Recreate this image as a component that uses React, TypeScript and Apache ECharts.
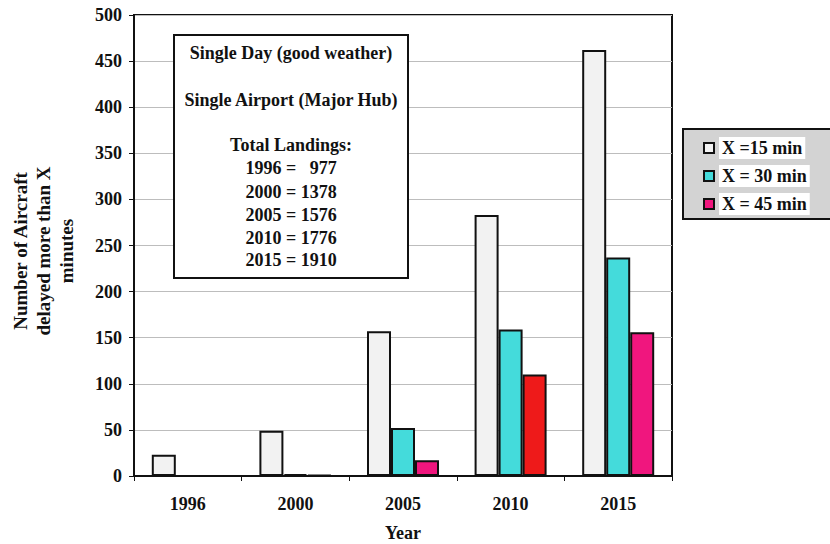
import React, { useEffect, useRef } from "react";
import * as echarts from "echarts";

const years = ["1996", "2000", "2005", "2010", "2015"];
const delayed15 = [23, 49, 157, 283, 462];
const delayed30 = [0, 2, 52, 159, 237];
const delayed45 = [0, 1, 17, 110, 156];
const seriesNames = ["X =15 min", "X = 30 min", "X = 45 min"];
const yTicks = [0, 50, 100, 150, 200, 250, 300, 350, 400, 450, 500];
const noteLines = [
  "Single Day (good weather)",
  "",
  "Single Airport (Major Hub)",
  "",
  "Total Landings:",
  "1996 =   977",
  "2000 = 1378",
  "2005 = 1576",
  "2010 = 1776",
  "2015 = 1910",
];
const yTitleLines = ["Number of Aircraft", "delayed more than X", "minutes"];

const FONT = "Liberation Serif";

export default function App() {
  const ref = useRef<HTMLDivElement>(null);
  useEffect(() => {
    if (!ref.current) return;
    const chart = echarts.init(ref.current, null, { renderer: "svg" });
    const colors = ["#f2f2f2", "#44dbdb", "#f0167e"];
    const red = "#ee1a1a";
    const mk = (name: string, data: number[], color: string, idx: number) => ({
      name,
      type: "bar",
      barWidth: 24,
      barGap: "0%",
      data: data.map((v, i) =>
        idx === 2 && i === 3 ? { value: v, itemStyle: { color: red } } : v
      ),
      itemStyle: { color, borderColor: "#111", borderWidth: 2 },
    });
    const graphic: any[] = [
      {
        type: "rect",
        shape: { x: 683, y: 129, width: 160, height: 90 },
        style: { fill: "#d3d3d3", stroke: "#111", lineWidth: 2 },
        z: 0,
      },
      {
        type: "rect",
        shape: { x: 174, y: 35, width: 234, height: 243 },
        style: { fill: "#fff", stroke: "#111", lineWidth: 2 },
        z: 10,
      },
    ];
    const noteY = [53, 76, 100, 122, 145, 168, 192, 215, 238, 260];
    noteLines.forEach((t, i) => {
      if (!t) return;
      graphic.push({
        type: "text",
        x: 291,
        y: noteY[i],
        z: 11,
        style: {
          text: t,
          fontFamily: FONT,
          fontWeight: "bold",
          fontSize: 18,
          fill: "#111",
          textAlign: "center",
          textVerticalAlign: "middle",
        },
      });
    });
    const titleX = [20, 43, 66];
    yTitleLines.forEach((t, i) => {
      graphic.push({
        type: "text",
        x: titleX[i],
        y: 251,
        rotation: Math.PI / 2,
        style: {
          text: t,
          fontFamily: FONT,
          fontWeight: "bold",
          fontSize: 19,
          fill: "#111",
          textAlign: "center",
          textVerticalAlign: "middle",
        },
      });
    });
    const labelStyle = { fontFamily: FONT, fontWeight: "bold", fontSize: 18, color: "#111" };
    chart.setOption({
      animation: false,
      backgroundColor: "#fff",
      grid: {
        left: 134,
        top: 15,
        width: 538,
        height: 461,
        show: true,
        backgroundColor: "#fff",
        borderColor: "#111",
        borderWidth: 2,
        outerBoundsMode: "none",
        containLabel: false,
      },
      legend: {
        orient: "vertical",
        left: 703,
        top: 137,
        padding: 0,
        itemWidth: 10,
        itemHeight: 10,
        itemGap: 6,
        icon: "rect",
        data: seriesNames.map((n) => ({
          name: n,
          itemStyle: { borderColor: "#111", borderWidth: 2 },
        })),
        textStyle: {
          ...labelStyle,
          backgroundColor: "#fff",
          padding: [2, 3, 2, 3],
        },
      },
      xAxis: {
        type: "category",
        data: years,
        name: "Year",
        nameLocation: "middle",
        nameGap: 48,
        nameTextStyle: labelStyle,
        axisLine: { lineStyle: { color: "#111", width: 2 } },
        axisTick: { show: true, inside: false, length: 5, lineStyle: { color: "#111" } },
        axisLabel: { ...labelStyle, margin: 19 },
      },
      yAxis: {
        type: "value",
        min: yTicks[0],
        max: yTicks[yTicks.length - 1],
        interval: 50,
        axisLine: { show: true, lineStyle: { color: "#111", width: 2 } },
        axisTick: { show: true, length: 5, lineStyle: { color: "#111" } },
        axisLabel: { ...labelStyle, margin: 12 },
        splitLine: { lineStyle: { color: "#bdbdbd", width: 1 } },
      },
      series: [
        mk(seriesNames[0], delayed15, colors[0], 0),
        mk(seriesNames[1], delayed30, colors[1], 1),
        mk(seriesNames[2], delayed45, colors[2], 2),
      ],
      graphic,
    });
    return () => chart.dispose();
  }, []);
  return (
    <div
      ref={ref}
      style={{ position: "fixed", left: 0, top: 0, width: 830, height: 544 }}
    />
  );
}
